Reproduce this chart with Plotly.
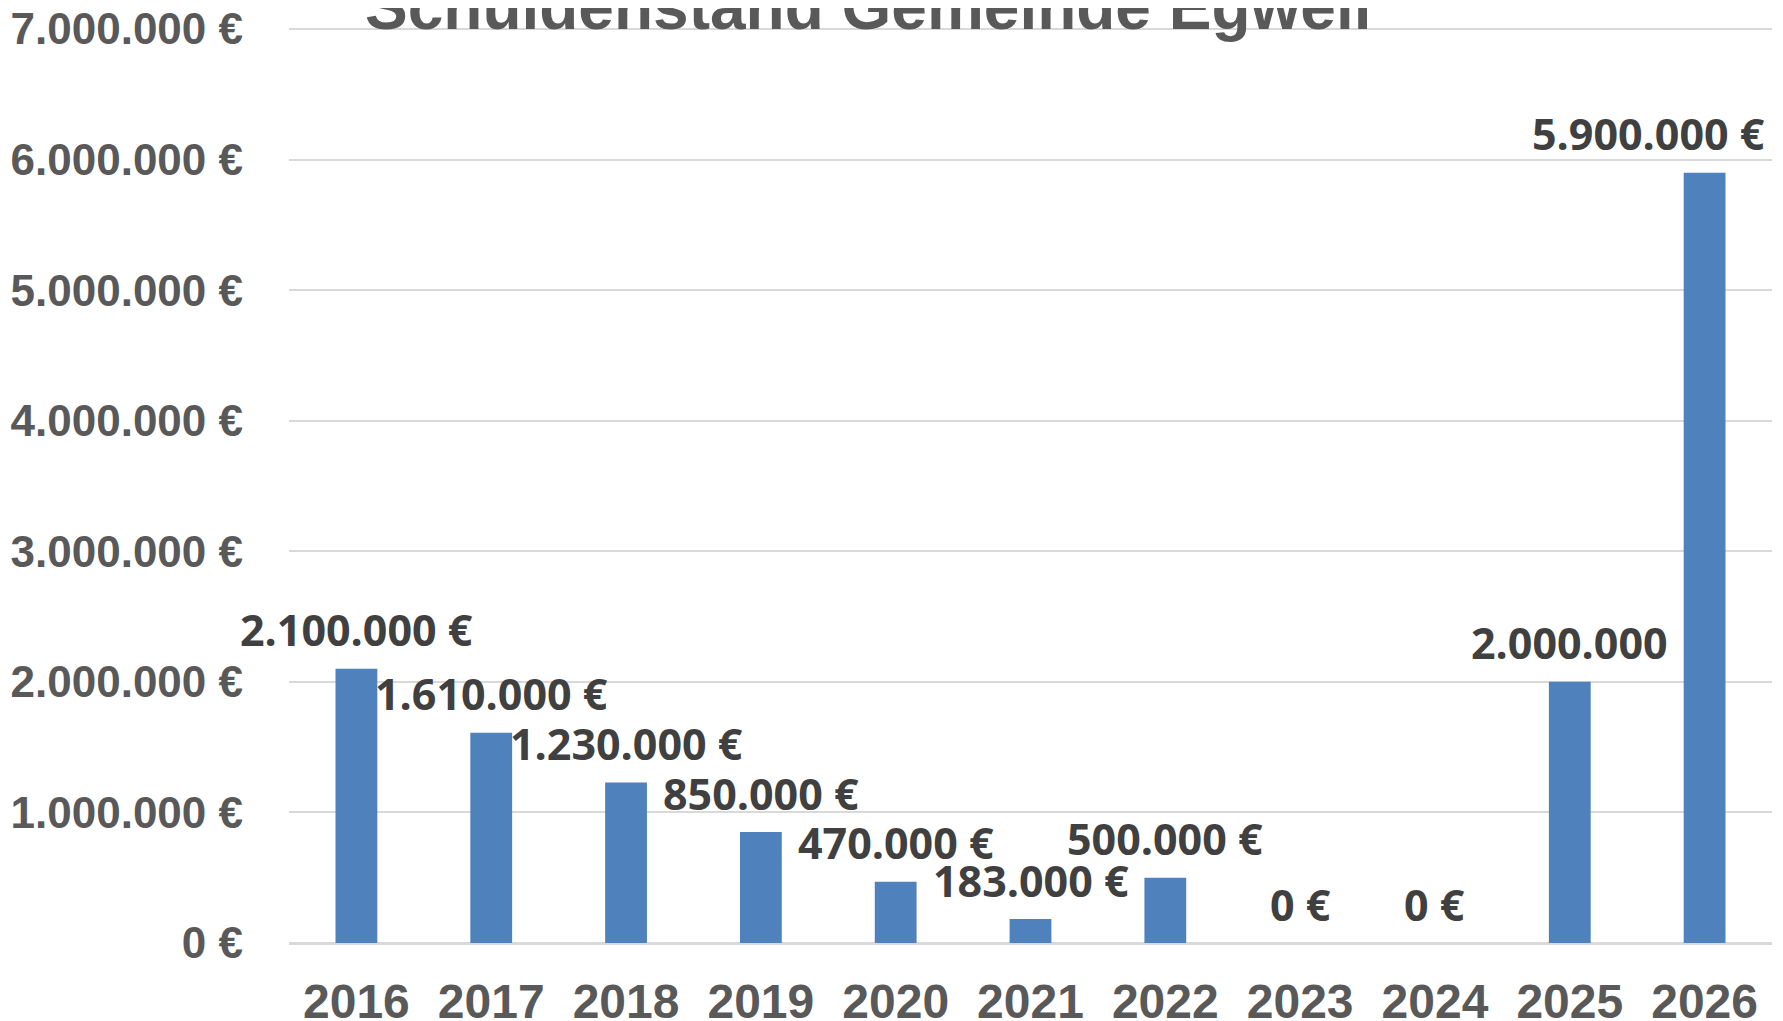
import plotly.graph_objects as go

years = ["2016", "2017", "2018", "2019", "2020", "2021", "2022", "2023", "2024", "2025", "2026"]
debt = [2100000, 1610000, 1230000, 850000, 470000, 183000, 500000, 0, 0, 2000000, 5900000]
labels = ["2.100.000 €", "1.610.000 €", "1.230.000 €", "850.000 €", "470.000 €", "183.000 €",
          "500.000 €", "0 €", "0 €", "2.000.000", "5.900.000 €"]
label_xshift = [0, 0, 0, 0, 0, 0, 0, 0, 0, 0, -56]
ytick_vals = [0, 1000000, 2000000, 3000000, 4000000, 5000000, 6000000, 7000000]
ytick_text = ["0 €", "1.000.000 €", "2.000.000 €", "3.000.000 €", "4.000.000 €",
              "5.000.000 €", "6.000.000 €", "7.000.000 €"]
title_text = "Schuldenstand Gemeinde Egweil"

fig = go.Figure()
fig.add_trace(go.Bar(
    x=years, y=debt,
    marker=dict(color="#4F81BD", line=dict(width=0)),
    width=0.31,
    hoverinfo="skip",
))

for i, (v, t, dx) in enumerate(zip(debt, labels, label_xshift)):
    fig.add_annotation(
        x=i, y=v, text=t, showarrow=False,
        xanchor="center", yanchor="middle", yshift=39, xshift=dx,
        font=dict(family="Open Sans", size=43, color="#404040", weight="bold"),
    )

# chart title (partly cut off at the top edge, as in the reference)
fig.add_annotation(
    xref="paper", yref="paper", x=0.3904, y=1.0,
    text=title_text, showarrow=False,
    xanchor="center", yanchor="middle", yshift=21,
    font=dict(family="Liberation Sans", size=64, color="#595959", weight="bold"),
)

fig.update_layout(
    template="none",
    width=1775, height=1013,
    paper_bgcolor="white", plot_bgcolor="white",
    margin=dict(l=281, r=11, t=20, b=78, autoexpand=False),
    showlegend=False,
    xaxis=dict(
        type="category",
        range=[-0.5, 10.5],
        automargin=False,
        showgrid=False, showline=False, zeroline=False,
        ticks="",
        tickfont=dict(family="Liberation Sans", size=48, color="#595959", weight="bold"),
        ticklabelstandoff=26,
        ticklabeloverflow="allow",
    ),
    yaxis=dict(
        range=[0, 7008000],
        automargin=False,
        tickvals=ytick_vals, ticktext=ytick_text,
        showgrid=True, gridcolor="#D9D9D9", gridwidth=2,
        zeroline=True, zerolinecolor="#D9D9D9", zerolinewidth=3,
        showline=False, ticks="",
        tickfont=dict(family="Liberation Sans", size=44, color="#595959", weight="bold"),
        ticklabelstandoff=45,
        ticklabeloverflow="allow",
    ),
)

fig.write_html("out.html")
